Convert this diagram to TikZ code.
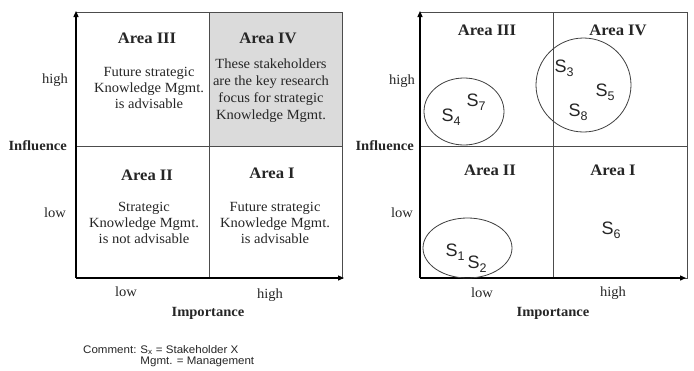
\documentclass[tikz,border=0pt]{standalone}
\usepackage{fontspec}
\setmainfont[FakeStretch=1.04]{Liberation Serif}
\newfontfamily\arialf{Liberation Sans}
\newfontfamily\arialw[FakeStretch=1.05]{Liberation Sans}
\usetikzlibrary{arrows.meta}
\newcommand{\stk}[1]{{\arialf\fontsize{18}{18}\selectfont S\raisebox{-0.4ex}{\fontsize{12.5}{12.5}\selectfont #1}}}
\begin{document}
\begin{tikzpicture}[x=1pt,y=-1pt,
  txt/.style={text=black!85,inner sep=0pt},
  ttl/.style={txt,font=\fontsize{16}{16}\selectfont\bfseries},
  body/.style={txt,align=center,font=\fontsize{14}{16}\selectfont},
  lbl/.style={txt,font=\fontsize{14}{14}\selectfont},
  axl/.style={txt,font=\fontsize{14}{14}\selectfont\bfseries},
  grid/.style={draw=black!70,line width=0.8pt},
  axis/.style={draw=black,line width=1.3pt,-{Triangle[length=6pt,width=5pt]}},
  ell/.style={draw=black!75,line width=0.8pt},
  sk/.style={txt,inner sep=0pt}]
\useasboundingbox (0,0) rectangle (694,370);
\fill[white] (0,0) rectangle (694,370);
% ---------- left matrix ----------
\coordinate (LO) at (76,278);
\fill[black!14] (209,12) rectangle (342,146);
\draw[grid] (76,12) rectangle (342,278);
\draw[grid] (209,12) -- (209,278);
\draw[grid] (76,146) -- (342,146);
\coordinate (LYT) at (76,11);
\coordinate (LXR) at (344,278);
\draw[axis] (LO) -- (LYT);
\draw[axis] (LO) -- (LXR);
\node[ttl] (l3t) at (147,38) {Area III};
\node[body] (l3b) at (149,88) {Future strategic\\Knowledge Mgmt.\\is advisable};
\node[ttl] (l4t) at (268,38) {Area IV};
\node[body,font=\fontsize{14}{17}\selectfont] (l4b) at (271,90.5) {These stakeholders\\are the key research\\focus for strategic\\Knowledge Mgmt.};
\node[ttl] (l2t) at (147,175) {Area II};
\node[body] (l2b) at (144,223) {Strategic\\Knowledge Mgmt.\\is not advisable};
\node[ttl] (l1t) at (272,173) {Area I};
\node[body] (l1b) at (275,223) {Future strategic\\Knowledge Mgmt.\\is advisable};
\node[lbl] (lhigh) at (55,80) {high};
\node[lbl] (llow) at (55,213) {low};
\node[axl,anchor=east] (linf) at (67,146) {Influence};
\node[lbl] (lxlow) at (126,292) {low};
\node[lbl] (lxhigh) at (270,295) {high};
\node[axl] (limp) at (208,313) {Importance};
% ---------- right matrix ----------
\coordinate (RO) at (420,278);
\draw[grid] (420,12) rectangle (687,278);
\draw[grid] (553,12) -- (553,278);
\draw[grid] (420,146) -- (687,146);
\coordinate (RYT) at (420,11);
\coordinate (RXR) at (686,278);
\draw[axis] (RO) -- (RYT);
\draw[axis] (RO) -- (RXR);
\node[ttl] (r3t) at (487,30) {Area III};
\node[ttl] (r4t) at (618,30) {Area IV};
\node[ttl] (r2t) at (490,170) {Area II};
\node[ttl] (r1t) at (613,170) {Area I};
\node[lbl] (rhigh) at (402,81) {high};
\node[lbl] (rlow) at (402,213) {low};
\node[axl,anchor=east] (rinf) at (414,146) {Influence};
\node[lbl] (rxlow) at (482,293) {low};
\node[lbl] (rxhigh) at (613,293) {high};
\node[axl] (rimp) at (553,313) {Importance};
\draw[ell] (464,111.5) ellipse [x radius=40, y radius=33.5];
\draw[ell] (583.5,85) ellipse [x radius=47.5, y radius=47];
\draw[ell] (467.5,248) ellipse [x radius=44.5, y radius=30];
\node[sk] (s3) at (564,68) {\stk{3}};
\node[sk] (s5) at (605,92) {\stk{5}};
\node[sk] (s8) at (578,112) {\stk{8}};
\node[sk] (s4) at (451,117) {\stk{4}};
\node[sk] (s7) at (476,102) {\stk{7}};
\node[sk] (s1) at (455,252) {\stk{1}};
\node[sk] (s2) at (477,264) {\stk{2}};
\node[sk] (s6) at (611,230) {\stk{6}};
% ---------- comment ----------
\node[txt,anchor=north west,align=left,font=\arialw\fontsize{11}{11.5}\selectfont] (cm) at (83,345)
 {\begin{tabular}{@{}l@{\hspace{4pt}}l}Comment: & S\textsubscript{x} = Stakeholder X\\ & Mgmt. = Management\end{tabular}};
\end{tikzpicture}
\end{document}
